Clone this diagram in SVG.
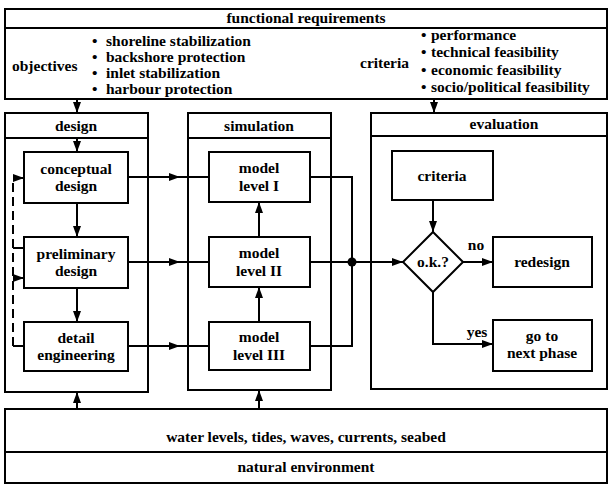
<svg xmlns="http://www.w3.org/2000/svg" width="611" height="485" viewBox="0 0 611 485" font-family="'Liberation Serif', 'DejaVu Serif', serif" font-weight="bold">
<style>
.b{fill:#fff;stroke:#000;stroke-width:2}
.ln{fill:none;stroke:#000;stroke-width:2}
.ar{fill:none;stroke:#000;stroke-width:2;marker-end:url(#ah)}
.dash{fill:none;stroke:#000;stroke-width:2;stroke-dasharray:9 5}
text{font-family:'Liberation Serif','DejaVu Serif',serif;font-weight:700;font-size:15.5px;fill:#000}
.c{text-anchor:middle}
</style>
<defs>
<marker id="ah" viewBox="0 0 11 8" refX="11" refY="4" markerWidth="11" markerHeight="8" orient="auto" markerUnits="userSpaceOnUse"><path d="M0,0 L11,4 L0,8 z" fill="#000"/></marker>
</defs>
<rect width="611" height="485" fill="#fff"/>

<g id="functional-requirements">
<rect class="b" x="5" y="9" width="602" height="90"/>
<line class="ln" x1="5" y1="28" x2="607" y2="28"/>
<text class="c" x="306" y="23">functional requirements</text>
<text x="12" y="71">objectives</text>
<text x="92" y="46">•<tspan x="106">shoreline stabilization</tspan></text>
<text x="92" y="62">•<tspan x="106">backshore protection</tspan></text>
<text x="92" y="78">•<tspan x="106">inlet stabilization</tspan></text>
<text x="92" y="94">•<tspan x="106">harbour protection</tspan></text>
<text x="360" y="68">criteria</text>
<text x="421" y="40">•<tspan x="431">performance</tspan></text>
<text x="421" y="57">•<tspan x="431">technical feasibility</tspan></text>
<text x="421" y="75">•<tspan x="431">economic feasibility</tspan></text>
<text x="421" y="92">•<tspan x="431">socio/political feasibility</tspan></text>
</g>

<g id="design">
<rect class="b" x="5" y="113" width="143" height="279"/>
<line class="ln" x1="5" y1="138" x2="148" y2="138"/>
<text class="c" x="76" y="131">design</text>
</g>
<g id="conceptual-design">
<rect class="b" x="24" y="152" width="104" height="51"/>
<text class="c" x="76" y="174">conceptual</text>
<text class="c" x="76" y="191">design</text>
</g>
<g id="preliminary-design">
<rect class="b" x="24" y="237" width="104" height="51"/>
<text class="c" x="76" y="259">preliminary</text>
<text class="c" x="76" y="276">design</text>
</g>
<g id="detail-engineering">
<rect class="b" x="24" y="322" width="104" height="49"/>
<text class="c" x="76" y="343">detail</text>
<text class="c" x="76" y="360">engineering</text>
</g>

<g id="simulation">
<rect class="b" x="188" y="113" width="143" height="277"/>
<line class="ln" x1="188" y1="138" x2="331" y2="138"/>
<text class="c" x="259" y="131">simulation</text>
</g>
<g id="model-level-1">
<rect class="b" x="209" y="152" width="101" height="50"/>
<text class="c" x="259" y="173">model</text>
<text class="c" x="259" y="191">level I</text>
</g>
<g id="model-level-2">
<rect class="b" x="209" y="237" width="101" height="50"/>
<text class="c" x="259" y="258">model</text>
<text class="c" x="259" y="276">level II</text>
</g>
<g id="model-level-3">
<rect class="b" x="209" y="322" width="101" height="48"/>
<text class="c" x="259" y="342">model</text>
<text class="c" x="259" y="360">level III</text>
</g>

<g id="evaluation">
<rect class="b" x="371" y="113" width="236" height="276"/>
<line class="ln" x1="371" y1="136" x2="607" y2="136"/>
<text class="c" x="504" y="129">evaluation</text>
</g>
<g id="criteria">
<rect class="b" x="392" y="151" width="101" height="49"/>
<text class="c" x="442" y="181">criteria</text>
</g>
<g id="ok">
<path class="b" d="M433,232 L463,262 L433,292 L403,262 Z"/>
<text class="c" x="433" y="267">o.k.?</text>
</g>
<g id="redesign">
<rect class="b" x="493" y="237" width="99" height="50"/>
<text class="c" x="542" y="267">redesign</text>
</g>
<g id="next-phase">
<rect class="b" x="493" y="320" width="99" height="51"/>
<text class="c" x="542" y="341">go to</text>
<text class="c" x="542" y="358">next phase</text>
</g>

<g id="natural-environment">
<rect class="b" x="5" y="409" width="602" height="74"/>
<line class="ln" x1="5" y1="452" x2="607" y2="452"/>
<text class="c" x="306" y="442">water levels, tides, waves, currents, seabed</text>
<text class="c" x="306" y="472">natural environment</text>
</g>

<g id="connectors">
<path class="ar" d="M77,99 V113"/>
<path class="ar" d="M434,99 V113"/>
<path class="ar" d="M77,138 V152"/>
<path class="ar" d="M77,203 V237"/>
<path class="ar" d="M77,288 V322"/>
<path class="dash" d="M13,346 V178"/>
<path class="ar" d="M13,178 H24"/>
<path class="ln" d="M13,248 H24"/>
<path class="ar" d="M13,278 H24"/>
<path class="ln" d="M13,346 H24"/>
<path class="ar" d="M128,177 H180"/>
<path class="ln" d="M179,177 H209"/>
<path class="ar" d="M128,262 H180"/>
<path class="ln" d="M179,262 H209"/>
<path class="ar" d="M128,346 H180"/>
<path class="ln" d="M179,346 H209"/>
<path class="ar" d="M259,237 V202"/>
<path class="ar" d="M259,322 V287"/>
<path class="ar" d="M77,409 V392"/>
<path class="ar" d="M259,409 V390"/>
<path class="ln" d="M310,177 H352 V346 H310"/>
<path class="ar" d="M310,262 H403"/>
<circle cx="352" cy="262" r="4.5" fill="#000"/>
<path class="ar" d="M433,200 V232"/>
<path class="ar" d="M463,262 H493"/>
<text class="c" x="476" y="250">no</text>
<path class="ar" d="M433,292 V344 H493"/>
<text class="c" x="477" y="337">yes</text>
</g>
</svg>
